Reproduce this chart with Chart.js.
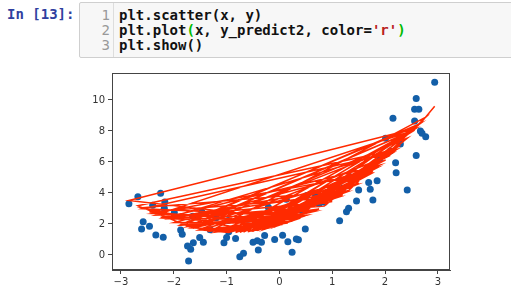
<!DOCTYPE html>
<html>
<head>
<meta charset="utf-8">
<script src="https://cdn.jsdelivr.net/npm/chart.js@4/dist/chart.umd.min.js"></script>
<style>
  body { margin: 0; background: #fff; width: 511px; height: 295px; overflow: hidden; position: relative; }
  .mono { font-family: 'DejaVu Sans Mono', monospace; font-size: 14px; line-height: 15px; font-weight: bold; }
  #prompt { position: absolute; left: 7px; top: 7px; color: #303F9F; white-space: pre; }
  #cell { position: absolute; left: 79px; top: 2px; width: 450px; height: 54px; background: #f7f7f7; border: 1px solid #cfcfcf; border-radius: 2px; }
  #gutter { position: absolute; left: 0; top: 0; width: 33px; height: 54px; border-right: 1px solid #ddd; }
  #nums { position: absolute; right: 3px; top: 5px; color: #999; text-align: right; white-space: pre; font-weight: normal; }
  #code { position: absolute; left: 39px; top: 5px; color: #111; white-space: pre; }
  .str { color: #BA2121; }
  .br { color: #0b0; }
  #wrap { position: absolute; left: 0; top: 60px; }
</style>
</head>
<body>
<div id="prompt" class="mono">In [13]:</div>
<div id="cell">
  <div id="gutter"><div id="nums" class="mono">1
2
3</div></div>
  <div id="code" class="mono">plt.scatter(x, y)
plt.plot<span class="br">(</span>x, y_predict2, color=<span class="str">'r'</span><span class="br">)</span>
plt.show()</div>
</div>
<div id="wrap"><canvas id="chart" width="511" height="235"></canvas></div>
<script>
// x values in data order (unsorted, as plotted)
const xs = [0.32, -2.85, 2.59, -0.75, 1.46, -2.17, 0.85, 2.42, -1.63, -2.68,
  2.21, -0.42, 1.85, -1.99, 0.13, -2.46, 1.14, -0.96,
  -1.44, 0.49, -2.58, 2.15, -0.21, 1.69, -1.72, 2.56, -2.34, 0.68,
  -1.05, 2.01, -0.50, -2.61, 1.31, 2.77, -1.31, 0.06, -2.20, 1.90,
  -0.68, 2.64, -1.87, 0.36, -2.40, 1.72, -0.34, 2.29, -1.68, 1.00,
  -2.25, 0.24, 2.59, -1.00, 1.50, -1.47, -0.09, 2.67, -1.84, 0.52,
  -0.28, 2.20, -2.18, 1.27, -0.83, 2.10, -1.51, 0.16, -1.20, 1.77,
  -0.52, 2.56, -1.74, 0.75, -0.97, 1.33, -0.40, -1.64, 1.20, -0.60,
  0.40, -0.10, 2.70, 2.94];
// observed y
const ys = [1.03, 3.31, 10.10, -0.11, 3.48, 3.42, 3.40, 4.19, 0.79, 3.76,
  5.31, 0.92, 4.79, 2.72, 3.59, 1.85, 2.21, 1.50,
  0.82, 1.68, 2.15, 8.82, 3.08, 4.67, -0.39, 9.40, 1.29, 3.94,
  0.79, 7.53, 0.82, 1.68, 3.01, 7.63, 1.63, 1.27, 1.14, 6.20,
  0.11, 9.40, 1.61, 0.98, 3.20, 4.24, 0.82, 7.16, 0.37, 3.80,
  3.98, 0.17, 6.41, 1.12, 4.19, 2.78, 0.99, 8.00, 1.33, 3.83,
  1.25, 5.95, 3.01, 2.79, 1.07, 6.70, 1.12, 0.86, 2.40, 3.55,
  2.47, 8.65, 0.58, 3.30, 2.22, 5.05, 0.32, 2.50, 4.30, 2.30,
  2.90, 2.30, 7.85, 11.14];
// y_predict2, same order as xs
const yPredict2 = [2.28, 3.52, 8.18, 1.46, 4.53, 2.32, 3.15, 7.54, 1.73, 3.17,
  6.80, 1.58, 5.63, 2.09, 2.04, 2.77, 3.75, 1.45,
  1.60, 2.52, 2.98, 6.59, 1.71, 5.16, 1.81, 8.06, 2.57, 2.83,
  1.46, 6.13, 1.54, 3.04, 4.15, 8.89, 1.53, 1.96, 2.36, 5.79,
  1.47, 8.37, 1.95, 2.33, 2.67, 5.25, 1.62, 7.07, 1.77, 3.45,
  2.43, 2.17, 8.18, 1.45, 4.64, 1.62, 1.81, 8.49, 1.92, 2.57,
  1.66, 6.76, 2.33, 4.06, 1.45, 6.43, 1.64, 2.07, 1.49, 5.39,
  1.53, 8.06, 1.83, 2.96, 1.45, 4.20, 1.59, 1.74, 3.89, 1.50,
  2.39, 1.81, 8.61, 9.59];

const xTicks = [-3, -2, -1, 0, 1, 2, 3];
const yTicks = [0, 2, 4, 6, 8, 10];

const fmt = v => (v < 0 ? '\u2212' + Math.abs(v) : String(v));

//matplotlib-style box round the axes
const frame = {
  id: 'frame',
  afterDraw(chart) {
    const a = chart.chartArea, c = chart.ctx;
    c.save();
    c.strokeStyle = '#444';
    c.lineWidth = 1;
    c.strokeRect(a.left + 0.5, a.top + 0.5, a.right - a.left - 1, a.bottom - a.top - 1);
    c.restore();
  }
};

const tickFont = { family: 'DejaVu Sans', size: 10 };

new Chart(document.getElementById('chart').getContext('2d'), {
  type: 'scatter',
  data: {
    datasets: [
      {
        label: 'y_predict2',
        data: xs.map((x, i) => ({ x: x, y: yPredict2[i] })),
        showLine: true,
        borderColor: '#ff2a00',
        borderWidth: 1.5,
        pointRadius: 0,
        fill: false,
        tension: 0,
        order: 1
      },
      {
        label: 'y',
        data: xs.map((x, i) => ({ x: x, y: ys[i] })),
        backgroundColor: '#135fa8',
        borderWidth: 0,
        pointRadius: 3.5,
        order: 2
      }
    ]
  },
  options: {
    responsive: false,
    animation: false,
    devicePixelRatio: 1,
    layout: { padding: { left: 80, right: 61, top: 13, bottom: 3 } },
    plugins: { legend: { display: false }, tooltip: { enabled: false } },
    scales: {
      x: {
        type: 'linear',
        min: -3.17,
        max: 3.23,
        afterBuildTicks: s => { s.ticks = xTicks.map(v => ({ value: v })); },
        afterFit: s => { s.height = 22; },
        ticks: { callback: v => fmt(v), color: '#333', font: tickFont, padding: 2, maxRotation: 0, autoSkip: false },
        grid: { drawOnChartArea: false, tickLength: 4, color: '#444' },
        border: { display: true, color: '#444' }
      },
      y: {
        type: 'linear',
        min: -0.97,
        max: 11.74,
        afterBuildTicks: s => { s.ticks = yTicks.map(v => ({ value: v })); },
        afterFit: s => { s.width = 32; },
        ticks: { callback: v => fmt(v), color: '#333', font: tickFont, padding: 3, autoSkip: false },
        grid: { drawOnChartArea: false, tickLength: 4, color: '#444' },
        border: { display: true, color: '#444' }
      }
    }
  },
  plugins: [frame]
});
</script>
</body>
</html>
